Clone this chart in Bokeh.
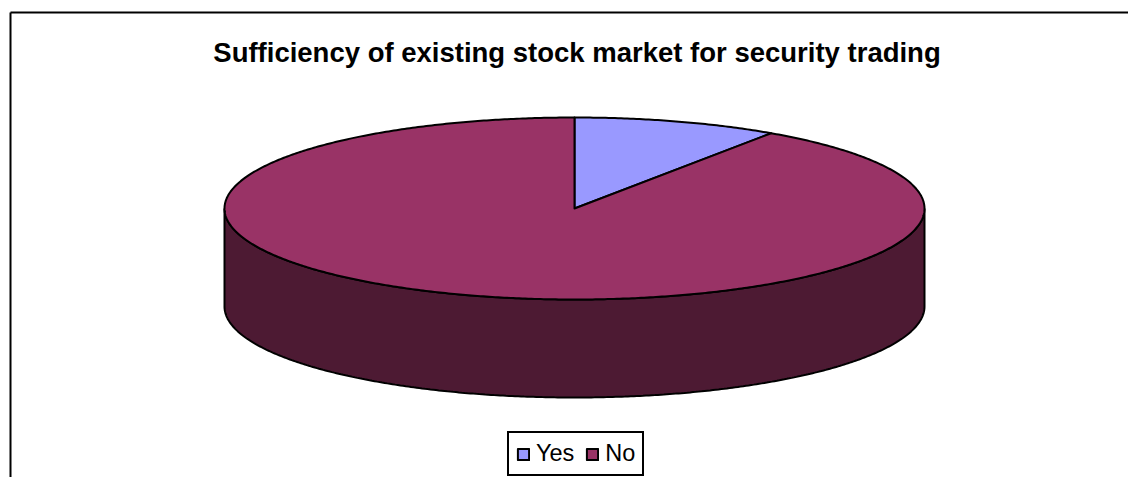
import numpy as np
from bokeh.embed import file_html
from bokeh.models import Legend, LegendItem, Range1d, Label
from bokeh.plotting import figure
from bokeh.resources import INLINE

TITLE = "Sufficiency of existing stock market for security trading"
categories = ["Yes", "No"]
shares = [9.5, 90.5]
top_colors = ["#9999FF", "#993366"]
side_colors = ["#4D4D80", "#4D1A33"]

W, H = 1128, 477
CX, CY = 574, 208      # pixel centre of the disc's upper face
RX, RY = 350, 91       # pixel radii of that face
DEPTH = 98 / RY        # disc thickness, in units of the vertical radius

p = figure(width=W, height=H, output_backend="svg", toolbar_location=None,
           x_range=Range1d(-CX / RX, (W - CX) / RX),
           y_range=Range1d(-(H - CY) / RY, CY / RY),
           min_border=0, outline_line_color=None)
p.axis.visible = False
p.grid.visible = False


def rim(start, end):
    """Points on the unit circle, clockwise from twelve o'clock, angles in degrees."""
    n = max(int(abs(end - start) * 2), 2)
    a = np.radians(np.linspace(start, end, n))
    return np.sin(a), np.cos(a)


fractions = np.array(shares) / sum(shares)
edges = np.concatenate([[0], np.cumsum(fractions) * 360])

# Outer wall: only the part of each slice facing the viewer (90 to 270 degrees)
for i in range(len(shares)):
    lo, hi = max(edges[i], 90), min(edges[i + 1], 270)
    if hi > lo:
        x, y = rim(lo, hi)
        p.patch(np.r_[x, x[::-1]], np.r_[y, y[::-1] - DEPTH],
                fill_color=side_colors[i], line_color="black", line_width=2)

# Upper face
face = []
for i in range(len(shares)):
    x, y = rim(edges[i], edges[i + 1])
    face.append(p.patch(np.r_[0, x], np.r_[0, y], fill_color=top_colors[i],
                        line_color="black", line_width=2, line_join="round"))

# Chart border: top and left edges only
p.line([(10 - CX) / RX, (W - CX) / RX], [(CY - 12) / RY] * 2, line_color="black", line_width=2)
p.line([(10 - CX) / RX] * 2, [(CY - 12) / RY, -(H - CY) / RY], line_color="black", line_width=2)

p.add_layout(Label(x=(576.5 - CX) / RX, y=(CY - 52) / RY, text=TITLE,
                   text_font="Liberation Sans", text_font_style="bold",
                   text_font_size="27.5px", text_color="black",
                   text_align="center", text_baseline="alphabetic"))

legend = Legend(
    items=[LegendItem(label=c, renderers=[r]) for c, r in zip(categories, face)],
    orientation="horizontal", location=(507, 1),
    label_text_font="Liberation Sans", label_text_font_size="23.5px",
    label_text_color="black", glyph_width=14, glyph_height=14,
    label_standoff=6, spacing=11, padding=7, margin=0,
    border_line_color="black", border_line_width=2, border_line_alpha=1,
    background_fill_color="white", background_fill_alpha=1,
)
p.add_layout(legend, "center")

open("out.html", "w").write(file_html(p, INLINE))
